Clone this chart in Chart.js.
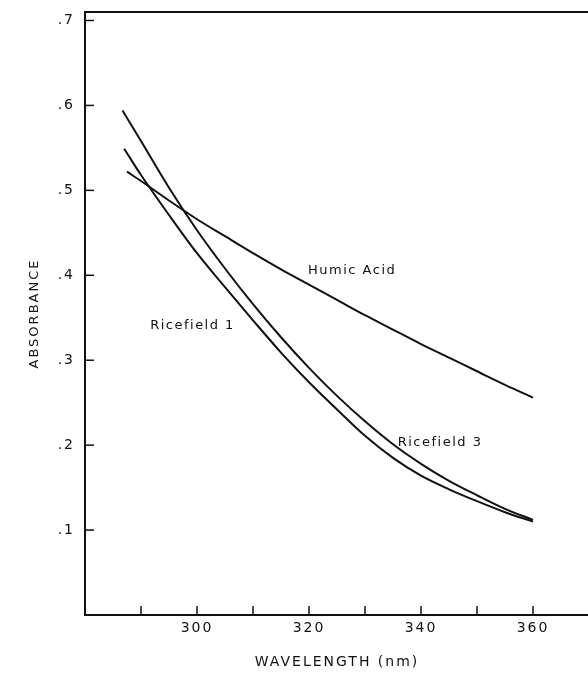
<!DOCTYPE html>
<html>
<head>
<meta charset="utf-8">
<title>Absorbance vs wavelength</title>
<script src="https://cdn.jsdelivr.net/npm/chart.js@4.4.1/dist/chart.umd.min.js"></script>
<style>
  html, body { margin: 0; padding: 0; background: #fff; overflow: hidden; }
  #wrap { width: 600px; height: 676px; position: relative; }
</style>
</head>
<body>
<div id="wrap"><canvas id="absChart"></canvas></div>
<script>
// Absorbance spectra

const humicWl = [287.5, 290, 295, 300, 305, 310, 315, 320, 325, 330, 335, 340, 345, 350, 355, 360];
const humicAbs = [0.522, 0.511, 0.488, 0.466, 0.446, 0.426, 0.407, 0.389, 0.371, 0.353, 0.336, 0.319, 0.303, 0.287, 0.271, 0.256];

const rice3Wl = [286.7, 290, 295, 300, 305, 310, 315, 320, 325, 330, 335, 340, 345, 350, 355, 360];
const rice3Abs = [0.594, 0.558, 0.503, 0.453, 0.408, 0.366, 0.327, 0.291, 0.258, 0.228, 0.201, 0.178, 0.158, 0.141, 0.125, 0.112];

const rice1Wl = [287, 290, 295, 300, 305, 310, 315, 320, 325, 330, 335, 340, 345, 350, 355, 360];
const rice1Abs = [0.549, 0.518, 0.471, 0.426, 0.386, 0.347, 0.309, 0.274, 0.242, 0.211, 0.185, 0.164, 0.148, 0.134, 0.121, 0.110];

// curve labels, placed in data coordinates
const labelTexts = ['Humic Acid', 'Ricefield 1', 'Ricefield 3'];
const labelWl = [327.7, 299.2, 343.4];
const labelAbs = [0.405, 0.341, 0.203];

const xTickLabels = [300, 320, 340, 360];

function toPoints(xs, ys) {
    return xs.map((x, i) => ({ x: x, y: ys[i] }));
}

function lineSet(label, xs, ys) {
    return {
        label: label,
        data: toPoints(xs, ys),
        borderColor: '#111',
        borderWidth: 2,
        pointRadius: 0,
        fill: false,
        cubicInterpolationMode: 'monotone'
    };
}

// spaced-out lettering like the old typeset figure
const spacingPlugin = {
    id: 'spacing',
    beforeDraw(chart) {
        chart.ctx.letterSpacing = '2px';
    }
};

// inward tick marks, top frame line and curve labels
const framePlugin = {
    id: 'frame',
    afterDraw(chart) {
        const ctx = chart.ctx;
        const area = chart.chartArea;
        const xs = chart.scales.x;
        const ys = chart.scales.y;
        ctx.save();
        ctx.strokeStyle = '#111';
        ctx.lineWidth = 2;
        ctx.beginPath();
        ctx.moveTo(area.left - 1, area.top);
        ctx.lineTo(area.right + 20, area.top);
        ctx.stroke();

        ctx.lineWidth = 1.5;
        xs.ticks.forEach(t => {
            if (t.value <= xs.min || t.value >= xs.max) return;
            const px = xs.getPixelForValue(t.value);
            ctx.beginPath();
            ctx.moveTo(px, area.bottom);
            ctx.lineTo(px, area.bottom - 9);
            ctx.stroke();
        });
        ys.ticks.forEach(t => {
            if (t.value <= ys.min) return;
            const py = ys.getPixelForValue(t.value);
            ctx.beginPath();
            ctx.moveTo(area.left, py);
            ctx.lineTo(area.left + 9, py);
            ctx.stroke();
        });

        ctx.fillStyle = '#111';
        ctx.font = '13px "DejaVu Sans"';
        ctx.letterSpacing = '1.5px';
        ctx.textAlign = 'center';
        ctx.textBaseline = 'middle';
        labelTexts.forEach((txt, i) => {
            ctx.fillText(txt, xs.getPixelForValue(labelWl[i]), ys.getPixelForValue(labelAbs[i]));
        });
        ctx.restore();
    }
};

const ctx = document.getElementById('absChart');

new Chart(ctx.getContext('2d'), {
    type: 'line',
    data: {
        datasets: [
            lineSet('Humic Acid', humicWl, humicAbs),
            lineSet('Ricefield 1', rice1Wl, rice1Abs),
            lineSet('Ricefield 3', rice3Wl, rice3Abs)
        ]
    },
    options: {
        responsive: true,
        maintainAspectRatio: false,
        animation: false,
        layout: { padding: { top: 12, right: 11, left: 0, bottom: 0 } },
        plugins: {
            legend: { display: false },
            tooltip: { enabled: false }
        },
        scales: {
            x: {
                type: 'linear',
                min: 280,
                max: 370,
                afterFit(scale) {
                    scale.height = 61;
                    scale.paddingLeft = 0;
                    scale.paddingRight = 0;
                },
                grid: { display: false, drawTicks: false },
                border: { display: true, color: '#111', width: 2 },
                ticks: {
                    stepSize: 10,
                    autoSkip: false,
                    maxRotation: 0,
                    padding: 5,
                    color: '#111',
                    font: { family: 'DejaVu Sans', size: 14 },
                    callback: v => xTickLabels.includes(v) ? String(v) : ''
                },
                title: {
                    display: true,
                    text: 'WAVELENGTH (nm)',
                    color: '#111',
                    font: { family: 'DejaVu Sans', size: 14 },
                    padding: { top: 0, bottom: 5 }
                }
            },
            y: {
                min: 0,
                max: 0.71,
                afterFit(scale) {
                    scale.width = 85;
                    scale.paddingTop = 0;
                    scale.paddingBottom = 0;
                },
                grid: { display: false, drawTicks: false },
                border: { display: true, color: '#111', width: 2 },
                ticks: {
                    stepSize: 0.1,
                    includeBounds: false,
                    padding: 10,
                    color: '#111',
                    font: { family: 'DejaVu Sans', size: 14 },
                    callback: v => v > 0.05 ? v.toFixed(1).replace('0.', '.') : ''
                },
                title: {
                    display: true,
                    text: 'ABSORBANCE',
                    color: '#111',
                    font: { family: 'DejaVu Sans', size: 13 },
                    padding: { top: 27, bottom: 0 }
                }
            }
        }
    },
    plugins: [spacingPlugin, framePlugin]
});
</script>
</body>
</html>
